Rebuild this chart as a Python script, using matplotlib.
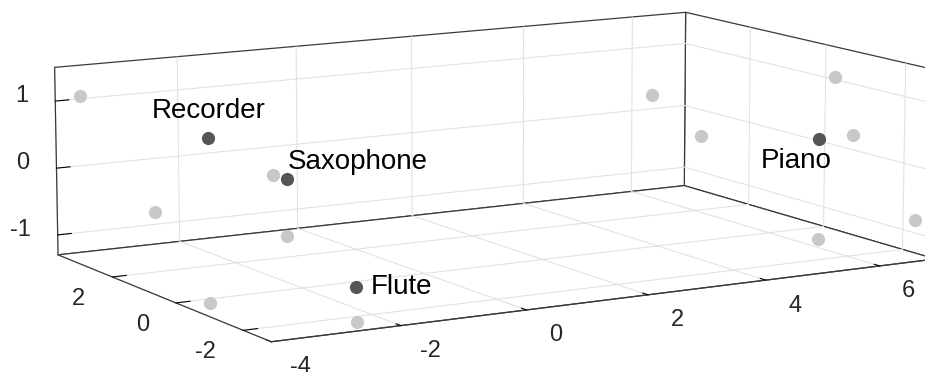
import numpy as np
import matplotlib
matplotlib.use("Agg")
import matplotlib.pyplot as plt
from mpl_toolkits.mplot3d import proj3d

plt.rcParams.update({
    'font.family': ['Liberation Sans', 'DejaVu Sans'],
    'font.size': 17,
    'axes.unicode_minus': False,
    'grid.color': '#e2e2e2',
    'grid.linewidth': 0.8,
    'axes.edgecolor': '#3a3a3a',
    'axes.linewidth': 0.9,
})

# data
instruments = ['Recorder', 'Saxophone', 'Flute', 'Piano']
x_vals = [-3.6, -0.42, -2.41, 6.38]
y_vals = [-0.25, 3.35, -2.3, -0.72]
z_vals = [1.04, -0.43, -0.81, 0.22]

x_lim = (-4, 7)
y_lim = (-2.8, 3.8)
z_lim = (-1.3, 1.5)
x_ticks = [-4, -2, 0, 2, 4, 6]
y_ticks = [-2, 0, 2]
z_ticks = [-1, 0, 1]

# label placement (offset in points, horizontal alignment)
label_offsets = {
    'Recorder': ((0.7, 14.4), 'center'),
    'Saxophone': ((0.7, 7.5), 'left'),
    'Flute': ((10.0, -5.0), 'left'),
    'Piano': ((-16.5, -21.0), 'center'),
}

dark = '#555555'
light = '#c8c8c8'
tick_text = '#262626'

fig = plt.figure(figsize=(9.25, 3.72), dpi=100)
ax = fig.add_axes([-0.029, -0.876, 1.1, 2.8], projection='3d')
ax.set_proj_type('persp', focal_length=0.8)
ax.view_init(elev=10.3, azim=-120.4)
ax.set_box_aspect((4.04, 2.5, 1.03), zoom=0.86)

ax.set_xlim(*x_lim)
ax.set_ylim(*y_lim)
ax.set_zlim(*z_lim)
ax.set_xticks(x_ticks)
ax.set_yticks(y_ticks)
ax.set_zticks(z_ticks)
ax.set_xticklabels([])
ax.set_yticklabels([])
ax.set_zticklabels([])
ax.zaxis.set_ticks_position('upper')

for axis in (ax.xaxis, ax.yaxis, ax.zaxis):
    axis.set_pane_color((1, 1, 1, 1))
    axis.pane.set_edgecolor('#3a3a3a')
    axis.pane.set_linewidth(0.9)
    axis._axinfo['tick']['inward_factor'] = 0.0
    axis._axinfo['tick']['outward_factor'] = 0.25
    axis._axinfo['tick']['color'] = '#3a3a3a'

# shadows on the three back walls
xs = np.array(x_vals)
ys = np.array(y_vals)
zs = np.array(z_vals)
ax.scatter(xs, np.full_like(ys, y_lim[1]), zs, s=90, c=light, depthshade=False, linewidths=0)
ax.scatter(np.full_like(xs, x_lim[1]), ys, zs, s=90, c=light, depthshade=False, linewidths=0)
ax.scatter(xs, ys, np.full_like(zs, z_lim[0]), s=90, c=light, depthshade=False, linewidths=0)
ax.scatter(xs, ys, zs, s=90, c=dark, depthshade=False, linewidths=0)

M = ax.get_proj()
for name, x, y, z in zip(instruments, x_vals, y_vals, z_vals):
    px, py, _ = proj3d.proj_transform(x, y, z, M)
    (dx, dy), ha = label_offsets[name]
    ax.annotate(name, xy=(px, py), xytext=(dx, dy), textcoords='offset points',
                ha=ha, va='baseline', fontsize=20, color='black')


def tick_label(text, x, y, z, offset, ha):
    px, py, _ = proj3d.proj_transform(x, y, z, M)
    ax.annotate(text, xy=(px, py), xytext=offset, textcoords='offset points',
                ha=ha, va='center', fontsize=17, color=tick_text,
                annotation_clip=False)


# tick labels placed like the original (MATLAB style)
for t in x_ticks:
    tick_label(str(t), t, y_lim[0], z_lim[0], (21.0, -18.4), 'center')
for t in y_ticks:
    tick_label(str(t), x_lim[0], t, z_lim[0], (-19.4, -15.8), 'right')
for t in z_ticks:
    tick_label(str(t), x_lim[0], y_lim[1], t, (-19.4, 3.6), 'right')

fig.savefig('out.png', dpi=100)
